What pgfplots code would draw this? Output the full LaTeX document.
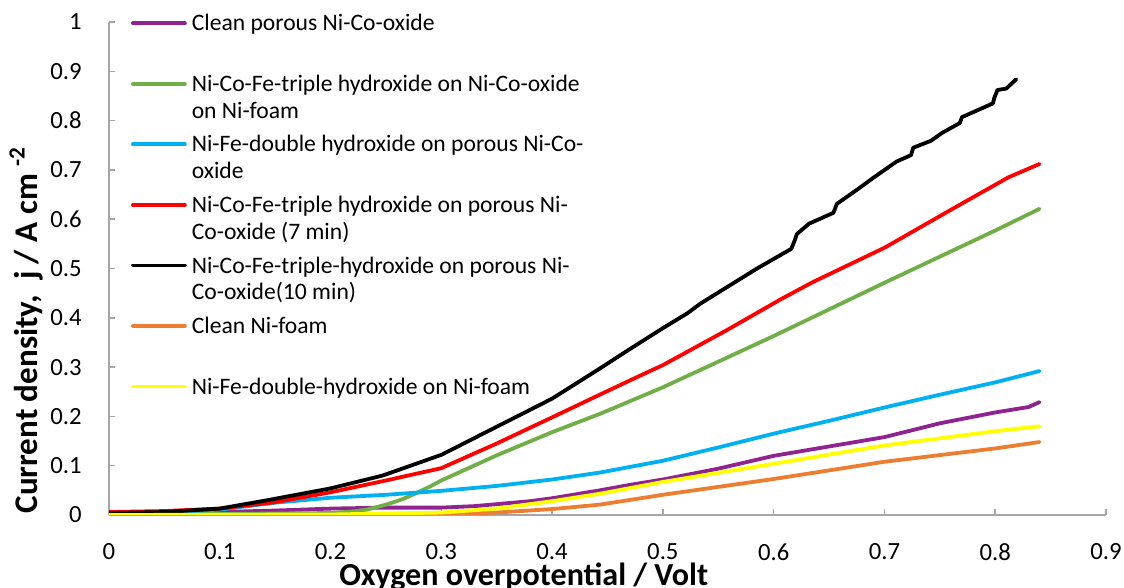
\documentclass[border=0pt]{standalone}
\usepackage{pgfplots}
\pgfplotsset{compat=1.18}
\usepackage{fontspec}
\setmainfont{Carlito}
\definecolor{cpurple}{HTML}{8F2390}
\definecolor{cgreen}{HTML}{72AE48}
\definecolor{cblue}{HTML}{00B0F0}
\definecolor{cred}{HTML}{FF0000}
\definecolor{corange}{HTML}{ED7D31}
\definecolor{cyellow}{HTML}{FFFF00}
\definecolor{caxis}{HTML}{A6A6A6}
\newcommand{\two}[2]{\begin{tabular}[t]{@{}l@{}}#1\\#2\end{tabular}}

\pgfplotstableread{
x y
0 0.003
0.05 0.004
0.1 0.006
0.15 0.009
0.2 0.013
0.25 0.015
0.3 0.015
0.33 0.018
0.35 0.022
0.38 0.028
0.4 0.034
0.443 0.05
0.47 0.061
0.5 0.072
0.55 0.094
0.6 0.12
0.65 0.139
0.7 0.158
0.75 0.186
0.8 0.208
0.83 0.219
0.84 0.229
}\purple
\pgfplotstableread{
x y
0 0.001
0.1 0.002
0.2 0.004
0.22 0.007
0.233 0.011
0.25 0.021
0.265 0.032
0.277 0.044
0.29 0.058
0.3 0.07
0.35 0.121
0.4 0.168
0.443 0.205
0.5 0.259
0.6 0.363
0.7 0.471
0.8 0.577
0.84 0.621
}\green
\pgfplotstableread{
x y
0 0.003
0.05 0.005
0.1 0.011
0.15 0.025
0.2 0.035
0.25 0.041
0.3 0.049
0.35 0.059
0.4 0.072
0.443 0.086
0.5 0.11
0.55 0.137
0.6 0.165
0.65 0.191
0.7 0.218
0.75 0.244
0.8 0.269
0.84 0.292
}\blue
\pgfplotstableread{
x y
0 0.006
0.05 0.008
0.1 0.013
0.15 0.026
0.2 0.046
0.25 0.07
0.3 0.095
0.35 0.145
0.4 0.198
0.443 0.244
0.476 0.279
0.5 0.304
0.557 0.374
0.606 0.437
0.635 0.472
0.7 0.542
0.76 0.619
0.812 0.685
0.84 0.712
}\red
\pgfplotstableread{
x y
0 0.004
0.05 0.006
0.1 0.013
0.143 0.03
0.2 0.054
0.247 0.08
0.3 0.122
0.35 0.179
0.4 0.236
0.443 0.297
0.467 0.332
0.5 0.379
0.522 0.409
0.534 0.429
0.552 0.454
0.585 0.5
0.616 0.54
0.619 0.557
0.621 0.57
0.632 0.591
0.654 0.613
0.657 0.631
0.676 0.661
0.69 0.684
0.711 0.717
0.724 0.73
0.726 0.745
0.742 0.759
0.752 0.775
0.768 0.795
0.77 0.807
0.798 0.835
0.799 0.845
0.802 0.862
0.81 0.865
0.819 0.884
}\black
\pgfplotstableread{
x y
0 0.0
0.25 0.0
0.3 0.001
0.35 0.005
0.4 0.012
0.443 0.021
0.5 0.041
0.6 0.073
0.7 0.108
0.8 0.135
0.84 0.148
}\orange
\pgfplotstableread{
x y
0 0.0
0.2 0.001
0.25 0.003
0.3 0.005
0.35 0.013
0.4 0.028
0.443 0.043
0.5 0.067
0.6 0.104
0.7 0.141
0.8 0.17
0.84 0.18
}\yellow

\begin{document}
\begin{tikzpicture}
\useasboundingbox (-54.5bp,-36.5bp) rectangle (507.5bp,257.5bp);
\begin{axis}[
  scale only axis, width=498.5bp, height=246.5bp,
  xmin=0, xmax=0.9, ymin=0, ymax=1,
  axis x line=bottom, axis y line=left,
  axis line style={-, caxis, line width=0.75bp},
  xtick={0,0.1,0.2,0.3,0.4,0.5,0.6,0.7,0.8,0.9},
  ytick={0,0.1,0.2,0.3,0.4,0.5,0.6,0.7,0.8,0.9,1},
  tick align=inside, major tick length=3bp,
  tick style={caxis, line width=0.75bp},
  /pgf/number format/assume math mode=true,
  ticklabel style={font=\fontsize{12.4}{14}\selectfont},
  xticklabel style={anchor=north, inner sep=0pt, yshift=-14bp},
  yticklabel style={anchor=east, inner sep=0pt, xshift=-13.5bp},
  xlabel={Oxygen overpotential / Volt},
  ylabel={Current density,\ \ j / A cm \textsuperscript{-2}},
  xlabel style={font=\bfseries\fontsize{16.1}{18}\selectfont, at={(axis description cs:0.416,-0.142)}, anchor=base},
  ylabel style={font=\bfseries\fontsize{16.6}{18}\selectfont, at={(axis description cs:-0.072,0.375)}, anchor=base},
  legend cell align=left,
  legend style={at={(rel axis cs:0.02207,1.0128)}, anchor=north west, draw=none, fill=none,
    inner sep=0pt, outer sep=0pt, column sep=2.5bp, row sep=22.67bp,
    nodes={inner sep=0pt, outer sep=0pt, text height=7.6bp, text depth=0pt, font=\fontsize{11.85}{13.5}\selectfont}},
  legend image code/.code={\draw[#1, line cap=round] (0bp,0bp) -- (26bp,0bp);},
  every axis plot/.append style={line width=1.9bp, line join=round, line cap=round, mark=none},
]
\addplot[cpurple] table {\purple};
\addlegendentry{Clean porous Ni-Co-oxide}
\addplot[cgreen] table {\green};
\addlegendentry{\two{Ni-Co-Fe-triple hydroxide on Ni-Co-oxide}{on Ni-foam}}
\addplot[cblue] table {\blue};
\addlegendentry{\two{Ni-Fe-double hydroxide on porous Ni-Co-}{oxide}}
\addplot[cred] table {\red};
\addlegendentry{\two{Ni-Co-Fe-triple hydroxide on porous Ni-}{Co-oxide (7 min)}}
\addplot[black] table {\black};
\addlegendentry{\two{Ni-Co-Fe-triple-hydroxide on porous Ni-}{Co-oxide(10 min)}}
\addplot[corange] table {\orange};
\addlegendentry{Clean Ni-foam}
\addplot[cyellow] table {\yellow};
\addlegendentry{Ni-Fe-double-hydroxide on Ni-foam}
\end{axis}
\end{tikzpicture}
\end{document}
